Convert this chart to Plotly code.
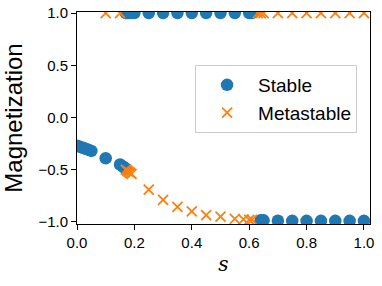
import plotly.graph_objects as go

# ---- data ----
stable_s = [0.00, 0.01, 0.02, 0.03, 0.04, 0.05, 0.10, 0.15, 0.16, 0.165, 0.17,
            0.17, 0.175, 0.18, 0.19, 0.20, 0.25, 0.30, 0.35, 0.40, 0.45, 0.50, 0.55, 0.60, 0.61,
            0.64, 0.65, 0.70, 0.75, 0.80, 0.85, 0.90, 0.95, 1.00]
stable_m = [-0.27, -0.28, -0.29, -0.30, -0.31, -0.32, -0.39, -0.45, -0.47, -0.48, -0.49,
            1.0, 1.0, 1.0, 1.0, 1.0, 1.0, 1.0, 1.0, 1.0, 1.0, 1.0, 1.0, 1.0, 1.0,
            -0.985, -0.985, -0.988, -0.99, -0.99, -0.99, -0.99, -0.99, -0.99]

meta_s = [0.10, 0.15,
          0.17, 0.175, 0.18, 0.185, 0.19, 0.25, 0.30, 0.35, 0.40, 0.45, 0.50, 0.55, 0.58, 0.60, 0.61,
          0.63, 0.64, 0.65, 0.70, 0.75, 0.80, 0.85, 0.90, 0.95, 1.00]
meta_m = [1.0, 1.0,
          -0.50, -0.51, -0.52, -0.53, -0.54, -0.69, -0.79, -0.855, -0.90, -0.935, -0.95, -0.97, -0.975, -0.98, -0.98,
          1.0, 1.0, 1.0, 1.0, 1.0, 1.0, 1.0, 1.0, 1.0, 1.0]

x_ticks = [0.0, 0.2, 0.4, 0.6, 0.8, 1.0]
y_ticks = [-1.0, -0.5, 0.0, 0.5, 1.0]

BLUE = "#1f77b4"
ORANGE = "#ff7f0e"
FONT = "Liberation Sans, Arial, sans-serif"

fig = go.Figure()
fig.add_trace(go.Scatter(
    x=stable_s, y=stable_m, mode="markers", name="Stable",
    marker=dict(symbol="circle", size=12.5, color=BLUE, line=dict(width=0)),
))
fig.add_trace(go.Scatter(
    x=meta_s, y=meta_m, mode="markers", name="Metastable",
    marker=dict(symbol="x-thin", size=10, color=ORANGE, line=dict(width=1.8, color=ORANGE)),
))

axis_common = dict(
    showline=True, linecolor="black", linewidth=1, mirror=True,
    ticks="outside", ticklen=5, tickwidth=1, tickcolor="black",
    showgrid=False, zeroline=False, automargin=False,
    tickfont=dict(family=FONT, size=15, color="black"),
)

fig.update_layout(
    width=382, height=286,
    margin=dict(l=77, r=12, t=12, b=62),
    paper_bgcolor="white", plot_bgcolor="white",
    font=dict(family=FONT, color="black"),
    xaxis=dict(range=[0, 1.021], tickvals=x_ticks, ticktext=[f"{v:.1f}" for v in x_ticks],
               title=dict(text="<i>s</i>", font=dict(family="DejaVu Serif, serif", size=20), standoff=6),
               **axis_common),
    yaxis=dict(range=[-1.02, 1.01], tickvals=y_ticks,
               ticktext=[f"{v:.1f}".replace("-", "\u2212") for v in y_ticks],
               title=dict(text="Magnetization", font=dict(family=FONT, size=24), standoff=8),
               **axis_common),
    legend=dict(
        x=0.403, y=0.75, xanchor="left", yanchor="top",
        bgcolor="rgba(255,255,255,0.8)", bordercolor="#cccccc", borderwidth=1,
        font=dict(family=FONT, size=19, color="black"),
        itemwidth=52,
    ),
    showlegend=True,
)

fig.write_html("out.html", config={"displayModeBar": False},
               post_script="document.body.style.margin='0';")
